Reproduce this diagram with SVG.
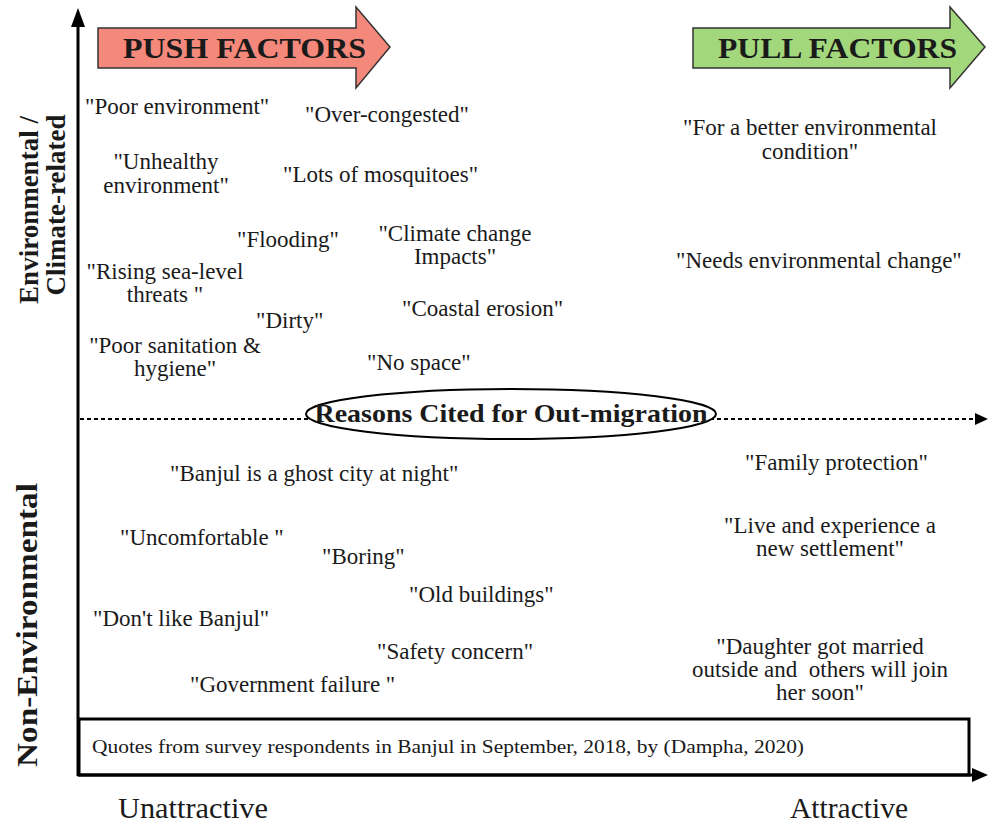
<svg xmlns="http://www.w3.org/2000/svg" width="988" height="826" viewBox="0 0 988 826">
<defs>
<style>
.q{font-family:"Liberation Serif",serif;font-size:23px;fill:#1a1a1a}
.qc{font-family:"Liberation Serif",serif;font-size:23px;fill:#1a1a1a;text-anchor:middle}
.b{font-family:"Liberation Serif",serif;font-weight:bold;fill:#1a1a1a}
.ax{font-family:"Liberation Serif",serif;font-size:30px;fill:#1a1a1a}
</style>
</defs>
<rect width="988" height="826" fill="#fff"/>
<g id="connectors">
<line x1="78" y1="776" x2="78" y2="26" stroke="#000" stroke-width="3"/>
<path d="M78,8 L71,27 L85,27 Z" fill="#000"/>
<line x1="78" y1="775" x2="974" y2="775" stroke="#000" stroke-width="3"/>
<path d="M988,775 L972,768 L972,782 Z" fill="#000"/>
<line x1="80" y1="419" x2="976" y2="419" stroke="#000" stroke-width="2" stroke-dasharray="4,3"/>
<path d="M988,419 L975,413 L975,425 Z" fill="#000"/>
</g>
<g id="push">
<path d="M98,28 L356,28 L356,7 L390,47 L356,88 L356,68 L98,68 Z" fill="#F4887B" stroke="#333" stroke-width="1.5"/>
<text class="b" x="123" y="58" font-size="30" textLength="243" lengthAdjust="spacingAndGlyphs">PUSH FACTORS</text>
</g>
<g id="pull">
<path d="M693,28 L950,28 L950,7 L985,47 L950,88 L950,68 L693,68 Z" fill="#A2D77C" stroke="#333" stroke-width="1.5"/>
<text class="b" x="718" y="58" font-size="30" textLength="239" lengthAdjust="spacingAndGlyphs">PULL FACTORS</text>
</g>
<g id="ylabel-env">
<text class="b" font-size="27" text-anchor="middle" transform="translate(38,210) rotate(-90)">Environmental /</text>
<text class="b" font-size="27" text-anchor="middle" transform="translate(65,205) rotate(-90)">Climate-related</text>
</g>
<g id="ylabel-nonenv">
<text class="b" font-size="29" text-anchor="middle" transform="translate(37,625) rotate(-90)" textLength="284" lengthAdjust="spacingAndGlyphs">Non-Environmental</text>
</g>
<g id="center">
<ellipse cx="511" cy="414" rx="205" ry="25" fill="#fff" stroke="#000" stroke-width="2"/>
<text class="b" x="511" y="422" font-size="26" text-anchor="middle" textLength="393" lengthAdjust="spacingAndGlyphs">Reasons Cited for Out-migration</text>
</g>
<g id="push-env">
<text class="q" x="85" y="114">"Poor environment"</text>
<text class="q" x="305" y="122">"Over-congested"</text>
<text class="qc" x="166" y="169">"Unhealthy<tspan x="166" dy="24">environment"</tspan></text>
<text class="q" x="283" y="182">"Lots of mosquitoes"</text>
<text class="q" x="237" y="247">"Flooding"</text>
<text class="qc" x="455" y="241">"Climate change<tspan x="455" dy="23">Impacts"</tspan></text>
<text class="qc" x="165" y="279">"Rising sea-level<tspan x="165" dy="23">threats "</tspan></text>
<text class="q" x="256" y="328">"Dirty"</text>
<text class="q" x="402" y="316">"Coastal erosion"</text>
<text class="qc" x="175" y="353">"Poor sanitation &amp;<tspan x="175" dy="23">hygiene"</tspan></text>
<text class="q" x="367" y="370">"No space"</text>
</g>
<g id="pull-env">
<text class="qc" x="810" y="135">"For a better environmental<tspan x="810" dy="24">condition"</tspan></text>
<text class="q" x="676" y="268">"Needs environmental change"</text>
</g>
<g id="push-nonenv">
<text class="q" x="170" y="481">"Banjul is a ghost city at night"</text>
<text class="q" x="120" y="545">"Uncomfortable "</text>
<text class="q" x="322" y="564">"Boring"</text>
<text class="q" x="409" y="602">"Old buildings"</text>
<text class="q" x="93" y="626">"Don't like Banjul"</text>
<text class="q" x="377" y="659">"Safety concern"</text>
<text class="q" x="190" y="692">"Government failure "</text>
</g>
<g id="pull-nonenv">
<text class="q" x="745" y="470">"Family protection"</text>
<text class="qc" x="830" y="533">"Live and experience a<tspan x="830" dy="23">new settlement"</tspan></text>
<text class="qc" x="820" y="654">"Daughter got married<tspan x="820" dy="23">outside and&#160; others will join</tspan><tspan x="820" dy="23">her soon"</tspan></text>
</g>
<g id="source">
<rect x="79" y="719" width="890" height="56" fill="none" stroke="#000" stroke-width="3"/>
<text x="92" y="753" font-family="Liberation Serif, serif" font-size="19" fill="#1a1a1a" textLength="712" lengthAdjust="spacingAndGlyphs">Quotes from survey respondents in Banjul in September, 2018, by (Dampha, 2020)</text>
</g>
<g id="xlabels">
<text class="ax" x="118" y="818" textLength="150" lengthAdjust="spacingAndGlyphs">Unattractive</text>
<text class="ax" x="790" y="818" textLength="118" lengthAdjust="spacingAndGlyphs">Attractive</text>
</g>
</svg>
